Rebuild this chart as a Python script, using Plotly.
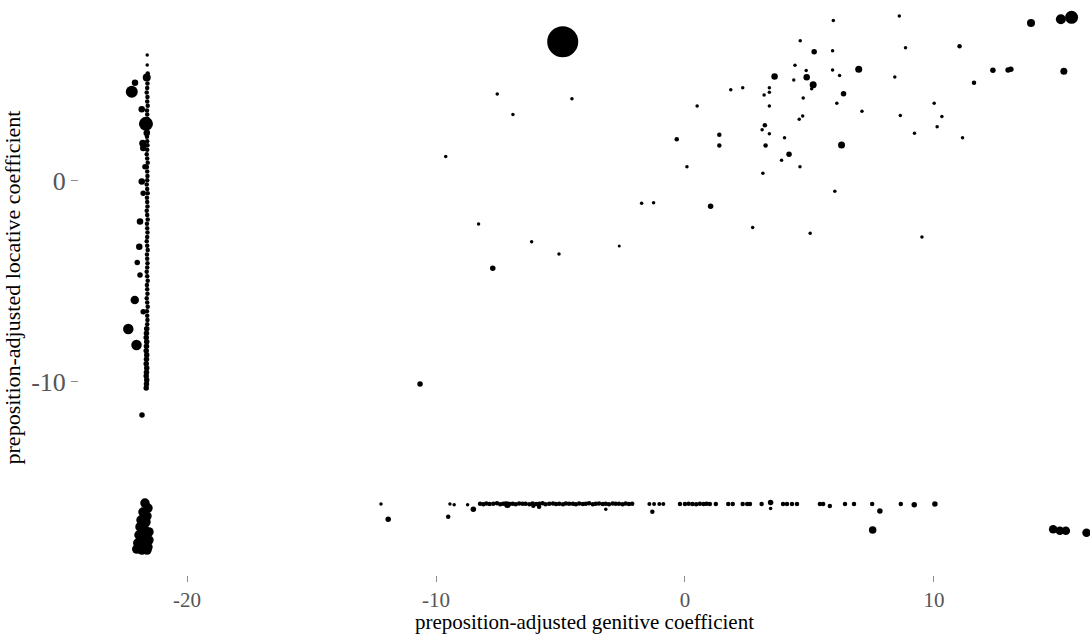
import plotly.graph_objects as go

# ---- upper-right cloud ----
cloud_x = [5.96, 8.61, 4.63, 5.19, 5.93, 8.86, 11.03, 13.90, 15.10, 15.53,
           4.42, 4.87, 5.93, 6.98, 3.60, 4.89, 4.37, 6.21, 5.15, 5.09,
           8.43, 12.37, 12.98, 13.09, 15.22, 11.61, 1.84, 2.32, 3.39, 3.39,
           3.18, 6.37, 4.75, 0.49, 3.39, 6.10, 7.11, 10.01, 4.73, 4.59,
           8.65, 10.32, 10.13, 3.21, 3.10, 3.39, 1.38, 4.00, 9.22, 11.15,
           1.38, 3.24, 6.29, 4.18, 3.88, 4.62, 0.08, 3.13, 6.02, 1.03,
           2.72, 5.03, 9.52,
           -4.91, -7.54, -4.54, -6.91, -0.33, -9.61, -1.74, -1.26, -8.29, -6.16,
           -5.06, -2.64, -7.72, -10.64]
cloud_y = [7.98, 8.21, 6.97, 6.42, 6.48, 6.63, 6.70, 7.85, 8.04, 8.14,
           5.76, 5.49, 5.52, 5.56, 5.19, 5.16, 5.02, 5.24, 4.79, 4.58,
           5.17, 5.51, 5.52, 5.56, 5.46, 4.88, 4.53, 4.63, 4.63, 4.41,
           4.28, 4.34, 4.13, 3.73, 3.73, 3.87, 3.47, 3.87, 3.23, 3.07,
           3.25, 3.20, 2.70, 2.77, 2.55, 2.35, 2.30, 2.15, 2.37, 2.15,
           1.76, 1.76, 1.79, 1.33, 1.03, 0.71, 0.71, 0.38, -0.51, -1.26,
           -2.32, -2.60, -2.79,
           6.92, 4.33, 4.09, 3.30, 2.07, 1.21, -1.11, -1.08, -2.14, -3.02,
           -3.63, -3.23, -4.34, -10.10]
cloud_s = [3.5, 3.5, 3.5, 5.5, 3.5, 3.5, 4.5, 8, 10, 13,
           3.5, 3.5, 3.5, 7, 6.5, 6.5, 3.5, 3.5, 7, 3.5,
           3.5, 5.5, 5.5, 5.5, 7, 4.5, 3.5, 3.5, 3.5, 3.5,
           3.5, 5.5, 3.5, 3.5, 3.5, 3.5, 3.5, 3.5, 3.5, 3.5,
           3.5, 3.5, 3.5, 4.5, 3.5, 3.5, 4.5, 3.5, 3.5, 3.5,
           4.5, 4.5, 7, 5.5, 3.5, 3.5, 3.5, 3.5, 3.5, 5.5,
           3.5, 3.5, 3.5,
           31, 3.5, 3.5, 3.5, 4.5, 3.5, 3.5, 3.5, 3.5, 3.5,
           3.5, 3, 5.5, 5.5]

# ---- left vertical column (small dots) ----
col_y = [6.27, 5.77, 5.35, 5.10, 4.85, 4.62, 4.40, 4.18, 3.95, 3.74,
         3.50, 3.30, 3.08, 2.86, 2.64, 2.42, 2.20, 1.98, 1.77, 1.55,
         1.33, 1.12, 0.90, 0.69, 0.47, 0.25, 0.04, -0.18, -0.40, -0.61,
         -0.83, -1.05, -1.27, -1.48, -1.70, -1.92, -2.13, -2.35, -2.57, -2.79,
         -3.00, -3.22, -3.44, -3.66, -3.87, -4.09, -4.31, -4.52, -4.74, -4.96,
         -5.18, -5.39, -5.61, -5.83, -6.05, -6.26, -6.48, -6.70, -6.92, -7.13,
         -7.35, -7.57, -7.79, -8.00, -8.22, -8.44, -8.66, -8.87, -9.09, -9.30,
         -9.52, -9.70, -9.90, -10.10, -10.30]
col_x = [-21.60, -21.60, -21.58, -21.61, -21.59, -21.60, -21.62, -21.59, -21.60, -21.58,
         -21.61, -21.60, -21.59, -21.62, -21.60, -21.58, -21.61, -21.60, -21.59, -21.60,
         -21.62, -21.60, -21.58, -21.61, -21.60, -21.59, -21.60, -21.62, -21.60, -21.58,
         -21.61, -21.60, -21.59, -21.62, -21.60, -21.58, -21.61, -21.60, -21.59, -21.60,
         -21.62, -21.60, -21.58, -21.61, -21.60, -21.59, -21.60, -21.62, -21.60, -21.58,
         -21.61, -21.60, -21.59, -21.62, -21.60, -21.58, -21.61, -21.60, -21.59, -21.60,
         -21.62, -21.63, -21.64, -21.62, -21.63, -21.64, -21.62, -21.63, -21.64, -21.62,
         -21.63, -21.64, -21.62, -21.63, -21.64]
col_s = [3.5, 3.5] + [4.5] * 58 + [5.5] * 15

# ---- left column larger points ----
left_x = [-21.62, -22.09, -22.22, -21.82, -21.65, -21.62, -21.78, -21.76, -21.69, -21.82,
          -21.76, -21.89, -21.92, -22.00, -21.89, -22.10, -21.76, -22.36, -22.03, -21.81]
left_y = [5.14, 4.89, 4.44, 3.57, 2.84, 2.39, 1.88, 1.64, 0.71, -0.03,
          -0.61, -2.02, -3.27, -4.06, -4.68, -5.92, -6.50, -7.36, -8.16, -11.64]
left_s = [8, 6.5, 12, 6.5, 14, 6.5, 7, 6.5, 5.5, 6.5,
          5.5, 6.5, 6.5, 5.5, 5.5, 8.5, 5.5, 10.5, 10.5, 5.5]

# ---- bottom-left blob ----
blob_x = [-21.69, -21.57, -21.77, -21.61, -21.85, -21.65, -21.89, -21.69, -21.53, -21.93,
          -21.73, -21.53, -21.98, -21.77, -21.57, -22.02, -21.81, -21.61]
blob_y = [-16.02, -16.27, -16.47, -16.67, -16.87, -16.97, -17.21, -17.36, -17.46, -17.61,
          -17.76, -17.86, -18.01, -18.11, -18.21, -18.31, -18.36, -18.36]
blob_s = [9.5] * 18

# ---- bottom horizontal band ----
band_x = [-8.23, -8.10, -7.98, -7.85, -7.70, -7.55, -7.42, -7.30, -7.20, -7.05,
          -6.92, -6.80, -6.66, -6.52, -6.40, -6.25, -6.12, -5.98, -5.85, -5.72,
          -5.60, -5.45, -5.30, -5.18, -5.05, -4.90, -4.78, -4.65, -4.50, -4.38,
          -4.25, -4.10, -3.98, -3.85, -3.70, -3.58, -3.45, -3.30, -3.18, -3.05,
          -2.90, -2.78, -2.65, -2.50, -2.38, -2.25, -2.12,
          -12.21, -11.92, -9.44, -9.27, -9.51, -8.73, -8.50, -7.13, -6.09, -5.86,
          -3.18, -1.43, -1.24, -1.03, -0.87, -1.31,
          -0.20, 0.00, 0.15, 0.30, 0.45, 0.60, 0.75, 0.87, 1.00, 1.24,
          1.74, 1.92, 2.32, 2.50, 2.61, 3.08, 3.44, 3.44, 3.94, 4.10,
          4.30, 4.50, 5.42, 5.55, 5.82, 6.43, 6.79, 7.52, 7.83, 8.67,
          9.21, 10.04, 7.54, 14.79, 15.06, 15.30, 16.13]
band_y = [-16.05, -16.08, -16.04, -16.07, -16.05, -16.03, -16.08, -16.06, -16.04, -16.07,
          -16.05, -16.08, -16.04, -16.06, -16.05, -16.08, -16.04, -16.07, -16.05, -16.03,
          -16.08, -16.06, -16.04, -16.07, -16.05, -16.08, -16.04, -16.06, -16.05, -16.08,
          -16.04, -16.07, -16.05, -16.03, -16.08, -16.06, -16.04, -16.07, -16.05, -16.08,
          -16.04, -16.06, -16.05, -16.08, -16.04, -16.07, -16.05,
          -16.07, -16.83, -16.07, -16.10, -16.70, -16.10, -16.33, -16.10, -16.16, -16.20,
          -16.33, -16.07, -16.07, -16.07, -16.07, -16.45,
          -16.07, -16.07, -16.05, -16.07, -16.08, -16.06, -16.07, -16.05, -16.07, -16.07,
          -16.07, -16.07, -16.07, -16.07, -16.07, -16.07, -15.99, -16.29, -16.07, -16.07,
          -16.07, -16.07, -16.07, -16.07, -16.17, -16.07, -16.07, -16.07, -16.42, -16.07,
          -16.10, -16.07, -17.36, -17.33, -17.40, -17.40, -17.50]
band_s = [4.5] * 47 + [3.5, 5.5, 3.5, 3.5, 4.5, 3.5, 5.5, 6.5, 4.5, 4.5,
                       3.5, 4, 4, 4, 4, 4.5,
                       4.5, 4.5, 4.5, 4.5, 4.5, 4.5, 4.5, 4.5, 4.5, 4.5,
                       4.5, 4.5, 4.5, 4.5, 4.5, 4.5, 5.5, 3.5, 4.5, 4.5,
                       4.5, 4.5, 4.5, 4.5, 4.5, 4.5, 4.5, 4.5, 5.5, 4.5,
                       5.5, 5.5, 7.5, 8.5, 8.5, 8.5, 8.5]

x_ticks = [-20, -10, 0, 10]
y_ticks = [-10, 0]

xs = cloud_x + col_x + left_x + blob_x + band_x
ys = cloud_y + col_y + left_y + blob_y + band_y
ss = cloud_s + col_s + left_s + blob_s + band_s

fig = go.Figure(go.Scatter(
    x=xs, y=ys, mode="markers",
    marker=dict(color="black", size=ss, line=dict(width=0), opacity=1),
    hoverinfo="x+y", showlegend=False,
))

serif = "Liberation Serif, Times New Roman, serif"
fig.update_layout(
    width=1090, height=634,
    margin=dict(l=79, r=0, t=0, b=59),
    paper_bgcolor="white", plot_bgcolor="white",
    font=dict(family=serif, color="black"),
    xaxis=dict(
        range=[-24.34, 16.27], tickvals=x_ticks, ticktext=[str(v) for v in x_ticks],
        showgrid=False, zeroline=False, showline=False,
        ticks="outside", ticklen=6, tickwidth=1, tickcolor="#8c8c8c",
        tickfont=dict(family=serif, size=21, color="#555555"),
        title=dict(text="preposition-adjusted genitive coefficient",
                   font=dict(family=serif, size=21, color="black"), standoff=6),
    ),
    yaxis=dict(
        range=[-19.60, 9.0], tickvals=y_ticks, ticktext=[str(v) for v in y_ticks],
        showgrid=False, zeroline=False, showline=False,
        ticks="outside", ticklen=7, tickwidth=1, tickcolor="#8c8c8c",
        tickfont=dict(family=serif, size=26, color="#555555"),
        title=dict(text="preposition-adjusted locative coefficient",
                   font=dict(family=serif, size=22, color="black"), standoff=6),
    ),
)

fig.write_html("out.html")
